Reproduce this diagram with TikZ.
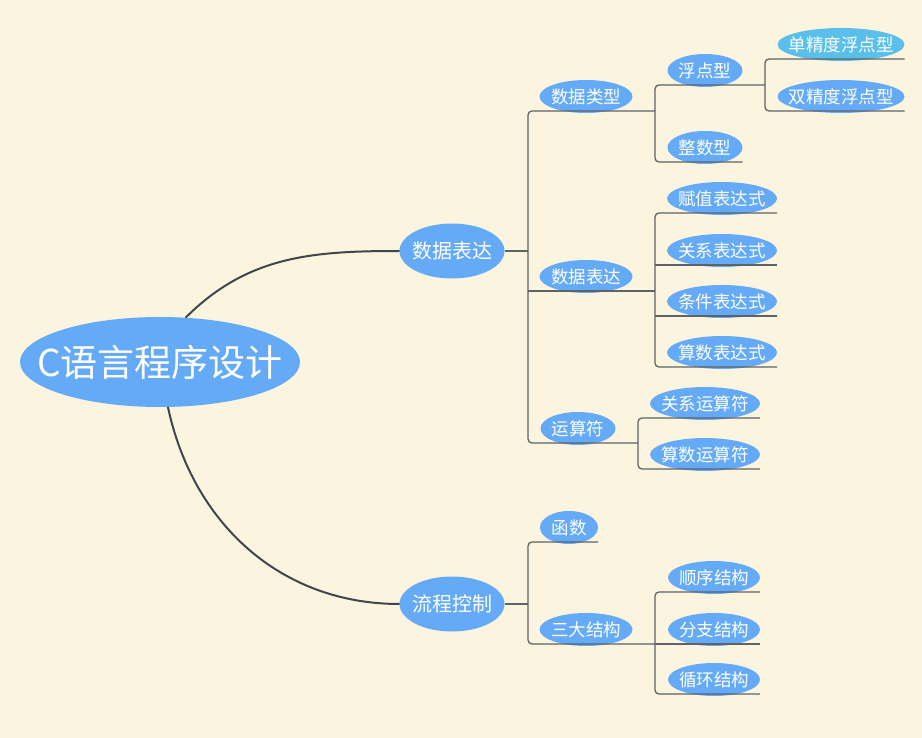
\documentclass[tikz,border=0pt]{standalone}
\usepackage{fontspec}
\usetikzlibrary{shapes.geometric}
\newfontfamily\cjk{Noto Sans CJK SC}
\definecolor{mapBg}{HTML}{FBF5DF}
\definecolor{mapBubble}{HTML}{64AAF6}
\definecolor{mapCyan}{HTML}{5BBFEC}
\definecolor{mapLine}{HTML}{3F464D}
\definecolor{mapBranch}{HTML}{5E6366}
% Text in a zero-width box, so the ellipse takes its size from minimum width.
\newcommand\mtext[1]{\makebox[0pt]{#1}}
\tikzset{
  mapfig/.style={
    x=1pt, y=-1pt,
    every node/.append style={font=\cjk, text=white},
  },
  bubble/.style={
    ellipse, fill=mapBubble, inner sep=0pt, minimum height=33pt,
    outer ysep=-2pt, font=\cjk\fontsize{17.5}{20}\selectfont,
  },
  rootnode/.style={bubble, outer sep=0pt, minimum width=280pt, minimum height=90pt,
    font=\cjk\fontsize{37}{40}\selectfont},
  topicnode/.style={bubble, outer sep=0pt, minimum width=105pt, minimum height=55pt,
    font=\cjk\fontsize{20}{24}\selectfont},
  trunk/.style={draw=mapLine, line width=2pt},
  branch/.style={draw=mapBranch, line width=1.3pt, rounded corners=4pt},
}
\begin{document}
\begin{tikzpicture}[mapfig]
  \path[use as bounding box, fill=mapBg] (0,0) rectangle (922,738);
  \node[rootnode] (Root) at (160,362) {\mtext{C语言程序设计}};
  \node[topicnode] (DataExpr) at (452,251) {\mtext{数据表达}};
  \node[topicnode] (Flow) at (452,604) {\mtext{流程控制}};
  % level 2
  \node[bubble, minimum width=93pt] (DataType) at (586,96.5) {\mtext{数据类型}};
  \node[bubble, minimum width=93pt] (Expr) at (586,276.5) {\mtext{数据表达}};
  \node[bubble, minimum width=75pt] (Ops) at (578,428.5) {\mtext{运算符}};
  \node[bubble, minimum width=58pt] (Func) at (569,527.5) {\mtext{函数}};
  \node[bubble, minimum width=93pt] (Struct) at (586,629.5) {\mtext{三大结构}};
  % level 3
  \node[bubble, minimum width=75pt] (Float) at (705,70.5) {\mtext{浮点型}};
  \node[bubble, minimum width=75pt] (Int) at (705,147.5) {\mtext{整数型}};
  \node[bubble, minimum width=110pt] (Assign) at (722,198.5) {\mtext{赋值表达式}};
  \node[bubble, minimum width=110pt] (RelExpr) at (722,250.5) {\mtext{关系表达式}};
  \node[bubble, minimum width=110pt] (CondExpr) at (722,301.5) {\mtext{条件表达式}};
  \node[bubble, minimum width=110pt] (ArithExpr) at (722,352.5) {\mtext{算数表达式}};
  \node[bubble, minimum width=110pt] (RelOp) at (705,403.5) {\mtext{关系运算符}};
  \node[bubble, minimum width=110pt] (ArithOp) at (705,454.5) {\mtext{算数运算符}};
  \node[bubble, minimum width=92pt] (Seq) at (714,577.5) {\mtext{顺序结构}};
  \node[bubble, minimum width=92pt] (Branch) at (714,629.5) {\mtext{分支结构}};
  \node[bubble, minimum width=92pt] (Loop) at (714,679.5) {\mtext{循环结构}};
  % level 4
  \node[bubble, fill=mapCyan, minimum width=127pt] (Single) at (841,44.5) {\mtext{单精度浮点型}};
  \node[bubble, minimum width=127pt] (Double) at (841,96.5) {\mtext{双精度浮点型}};
  % forks
  \coordinate (dataFork) at (528,0);
  \coordinate (typeFork) at (655,0);
  \coordinate (floatFork) at (765,0);
  \coordinate (exprFork) at (655,0);
  \coordinate (opFork) at (638,0);
  \coordinate (flowFork) at (528,0);
  \coordinate (structFork) at (655,0);
  % trunk curves
  \draw[trunk] (Root.60) to[out=45, in=180] (DataExpr.west);
  \draw[trunk] (Root.-80) to[out=-78, in=180] (Flow.west);
  % data expression subtree
  \draw[branch] (DataExpr.east) -- (dataFork |- DataExpr.east);
  \draw[branch] (typeFork |- DataType.south) -- (dataFork |- DataType.south)
    -- (dataFork |- Ops.south) -- (opFork |- Ops.south);
  \draw[branch] (dataFork |- Expr.south) -- (exprFork |- Expr.south);
  \draw[branch] (floatFork |- Float.south) -- (typeFork |- Float.south)
    -- (typeFork |- Int.south) -- (Int.east |- Int.south);
  \draw[branch] (Single.east |- Single.south) -- (floatFork |- Single.south)
    -- (floatFork |- Double.south) -- (Double.east |- Double.south);
  \draw[branch] (Assign.east |- Assign.south) -- (exprFork |- Assign.south)
    -- (exprFork |- ArithExpr.south) -- (ArithExpr.east |- ArithExpr.south);
  \draw[branch] (exprFork |- RelExpr.south) -- (RelExpr.east |- RelExpr.south);
  \draw[branch] (exprFork |- CondExpr.south) -- (CondExpr.east |- CondExpr.south);
  \draw[branch] (RelOp.east |- RelOp.south) -- (opFork |- RelOp.south)
    -- (opFork |- ArithOp.south) -- (ArithOp.east |- ArithOp.south);
  % flow control subtree
  \draw[branch] (Flow.east) -- (flowFork |- Flow.east);
  \draw[branch] (Func.east |- Func.south) -- (flowFork |- Func.south)
    -- (flowFork |- Struct.south) -- (structFork |- Struct.south);
  \draw[branch] (Seq.east |- Seq.south) -- (structFork |- Seq.south)
    -- (structFork |- Loop.south) -- (Loop.east |- Loop.south);
  \draw[branch] (structFork |- Branch.south) -- (Branch.east |- Branch.south);
\end{tikzpicture}
\end{document}
